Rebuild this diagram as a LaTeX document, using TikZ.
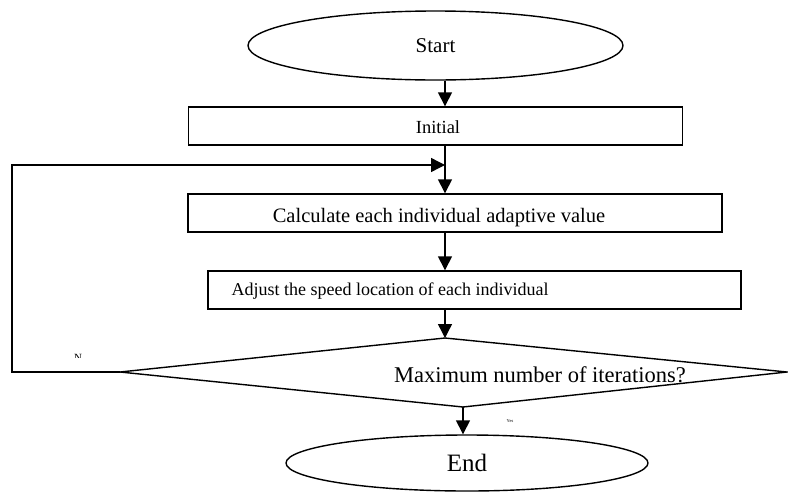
\documentclass[tikz,border=0pt]{standalone}
\usepackage{fontspec}
\setmainfont{Liberation Serif}
\usetikzlibrary{shapes.geometric,arrows.meta}
\begin{document}
\begin{tikzpicture}[x=1pt,y=-1pt,
  line width=1.4pt,
  arr/.style={-{Triangle[width=14pt,length=14pt]}},
  box/.style={draw, rectangle, inner sep=0pt},
  oval/.style={draw, ellipse, inner sep=0pt},
  lbl/.style={inner sep=0pt, anchor=center}]
\useasboundingbox (0,0) rectangle (788,491);
\clip (0,0) rectangle (788,491);
% nodes
\node[oval, minimum width=375pt, minimum height=69pt, font=\fontsize{21}{21}\selectfont] (start) at (435.5,45.5) {Start};
\node[box, minimum width=494pt, minimum height=38pt] (init) at (435.5,126) {};
\node[lbl, font=\fontsize{18.5}{18.5}\selectfont] (inittext) at (438,127) {Initial};
\node[box, minimum width=534pt, minimum height=38pt] (calc) at (455,213) {};
\node[lbl, font=\fontsize{20.5}{20.5}\selectfont] (calctext) at (439,218) {Calculate each individual adaptive value};
\node[box, minimum width=533pt, minimum height=38pt] (adj) at (474.5,290) {};
\node[lbl, anchor=west, font=\fontsize{18}{18}\selectfont] (adjtext) at (231,291) {Adjust the speed location of each individual};
% decision
\coordinate (dl) at (120,372);
\coordinate (dt) at (445,338);
\coordinate (dr) at (787,372);
\coordinate (db) at (463,407);
\draw[line join=miter] (dl) -- (dt) -- (dr) -- (db) -- cycle;
\node[lbl, font=\fontsize{22.5}{22.5}\selectfont] (dtext) at (540,375) {Maximum number of iterations?};
\node[oval, minimum width=362pt, minimum height=56pt, font=\fontsize{25}{25}\selectfont] (end) at (467,463) {End};
% labels
\begin{scope}
\clip (68,348) rectangle (90,357);
\node[lbl, font=\fontsize{11}{11}\selectfont] (no) at (78,358) {N};
\end{scope}
\node[lbl, font=\fontsize{4.5}{4.5}\selectfont] (yes) at (510,421) {Yes};
% connectors
\coordinate (sx) at (445,0);
\coordinate (lb) at (12,372);
\coordinate (lt) at (12,165);
\coordinate (lj) at (445,165);
\draw[arr] (start.south -| sx) -- (init.north -| sx);
\draw[arr] (init.south -| sx) -- (calc.north -| sx);
\draw[arr] (calc.south -| sx) -- (adj.north -| sx);
\draw[arr] (adj.south -| sx) -- (dt);
\draw[arr] (db) -- (end.north -| db);
\draw[arr] (dl) -- (lb) -- (lt) -- (lj);
\end{tikzpicture}
\end{document}
